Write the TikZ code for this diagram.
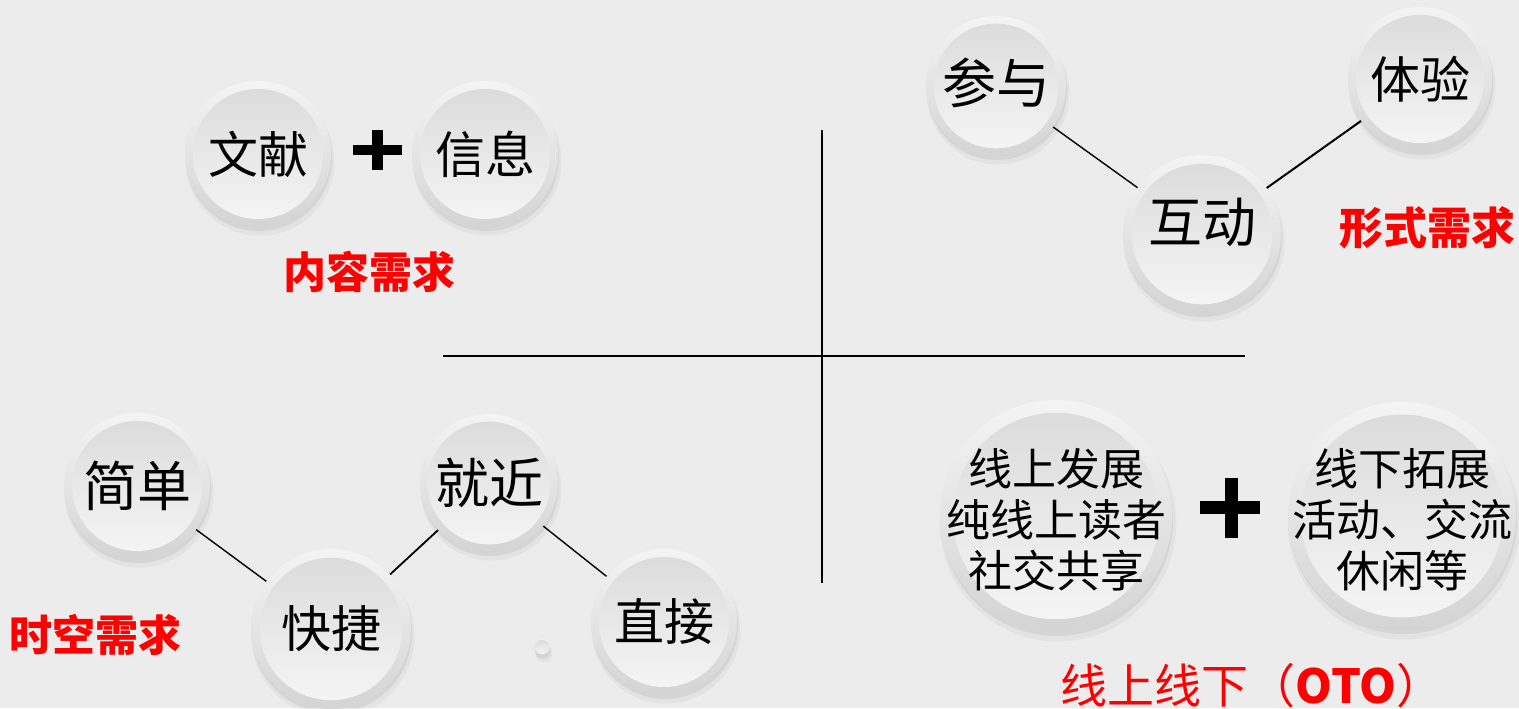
\documentclass[tikz,border=0pt]{standalone}
\usepackage{fontspec}
\newfontfamily\cjk{Noto Sans CJK SC}
\usetikzlibrary{shadows}
\definecolor{bgc}{HTML}{ECECEC}
\definecolor{rimtop}{HTML}{F4F4F4}
\definecolor{rimbot}{HTML}{D4D4D4}
\definecolor{facetop}{HTML}{DADADA}
\definecolor{facebot}{HTML}{F6F6F6}
\definecolor{redlab}{HTML}{FF0000}
\tikzset{
  btn/.style={circle, inner sep=0pt, minimum size=#1pt,
    general shadow={shadow scale=1.02, shadow xshift=1pt, shadow yshift=-3.5pt, fill=black, opacity=0.035},
    general shadow={shadow scale=1.0, shadow xshift=0.5pt, shadow yshift=-2pt, fill=black, opacity=0.06},
    top color=rimtop, bottom color=rimbot,
    path picture={\shade[top color=facetop, bottom color=facebot]
      (path picture bounding box.center) circle[radius=0.445*#1pt];},
    text=black, font=\cjk\fontsize{25}{30}\selectfont},
  bigtxt/.style={font=\cjk\fontsize{27}{30}\selectfont},
  multi/.style={align=center, text=black, font=\cjk\fontsize{22}{25.5}\selectfont},
  redlabel/.style={text=redlab, font=\cjk\bfseries\fontsize{21.5}{26}\selectfont, inner sep=0pt},
  conn/.style={draw=black, line width=0.7pt},
  axisline/.style={draw=black, line width=0.8pt},
  plusbar/.style={fill=black, draw=none},
}
\begin{document}
\begin{tikzpicture}[x=0.5pt, y=-0.5pt]
\fill[bgc] (0,0) rectangle (1519,708);
\useasboundingbox (0,0) rectangle (1519,708);

% axes
\coordinate (vtop) at (822,130);
\coordinate (vbot) at (822,583);
\coordinate (hl) at (443,356);
\coordinate (hr) at (1245,356);
\draw[axisline] (vtop) -- (vbot);
\draw[axisline] (hl) -- (hr);

% top-left: content
\node[btn=73] (wx) at (258,154) {文献};
\node[btn=73] (xx) at (485,154) {信息};
\fill[plusbar] (353,145) rectangle (402,155);
\fill[plusbar] (372,130) rectangle (383,170);
\node[redlabel] (nr) at (369,272) {内容需求};

% top-right: form
\node[btn=70, label={[bigtxt, text=black, yshift=1.5pt]center:参与}] (cy) at (996,86) {};
\node[btn=72] (ty) at (1420,79) {体验};
\node[btn=79, label={[bigtxt, text=black, yshift=6pt]center:互动}] (hd) at (1202,234) {};
\draw[conn] (cy) -- (hd);
\draw[conn, line width=1pt] (ty) -- (hd);
\node[redlabel, font=\cjk\bfseries\fontsize{22}{26}\selectfont] (xs) at (1427,228) {形式需求};

% bottom-left: time-space
\node[btn=73, bigtxt] (jd) at (137,486) {简单};
\node[btn=80] (kj) at (331,629) {快捷};
\node[btn=69, bigtxt] (jj) at (489,483) {就近};
\node[btn=73] (zj) at (664,622) {直接};
\node[btn=8] (dot) at (542,647) {};
\draw[conn] (jd) -- (kj);
\draw[conn, line width=0.9pt] (jj) -- (kj);
\draw[conn] (jj) -- (zj);
\node[redlabel] (sk) at (96,635) {时空需求};

% bottom-right: online/offline
\node[btn=116, label={[multi, yshift=-2pt]center:线上发展\\纯线上读者\\社交共享}] (on) at (1056,516) {};
\node[btn=114, label={[multi, yshift=-2pt]center:线下拓展\\活动、交流\\休闲等}] (off) at (1402,516) {};
\fill[plusbar] (1200,501) rectangle (1260,514);
\fill[plusbar] (1225,478) rectangle (1238,538);
\node[text=redlab, font=\cjk\fontsize{23.5}{28}\selectfont, inner sep=0pt] (oto) at (1252,686) {线上线下（\textbf{OTO}）};
\end{tikzpicture}
\end{document}
